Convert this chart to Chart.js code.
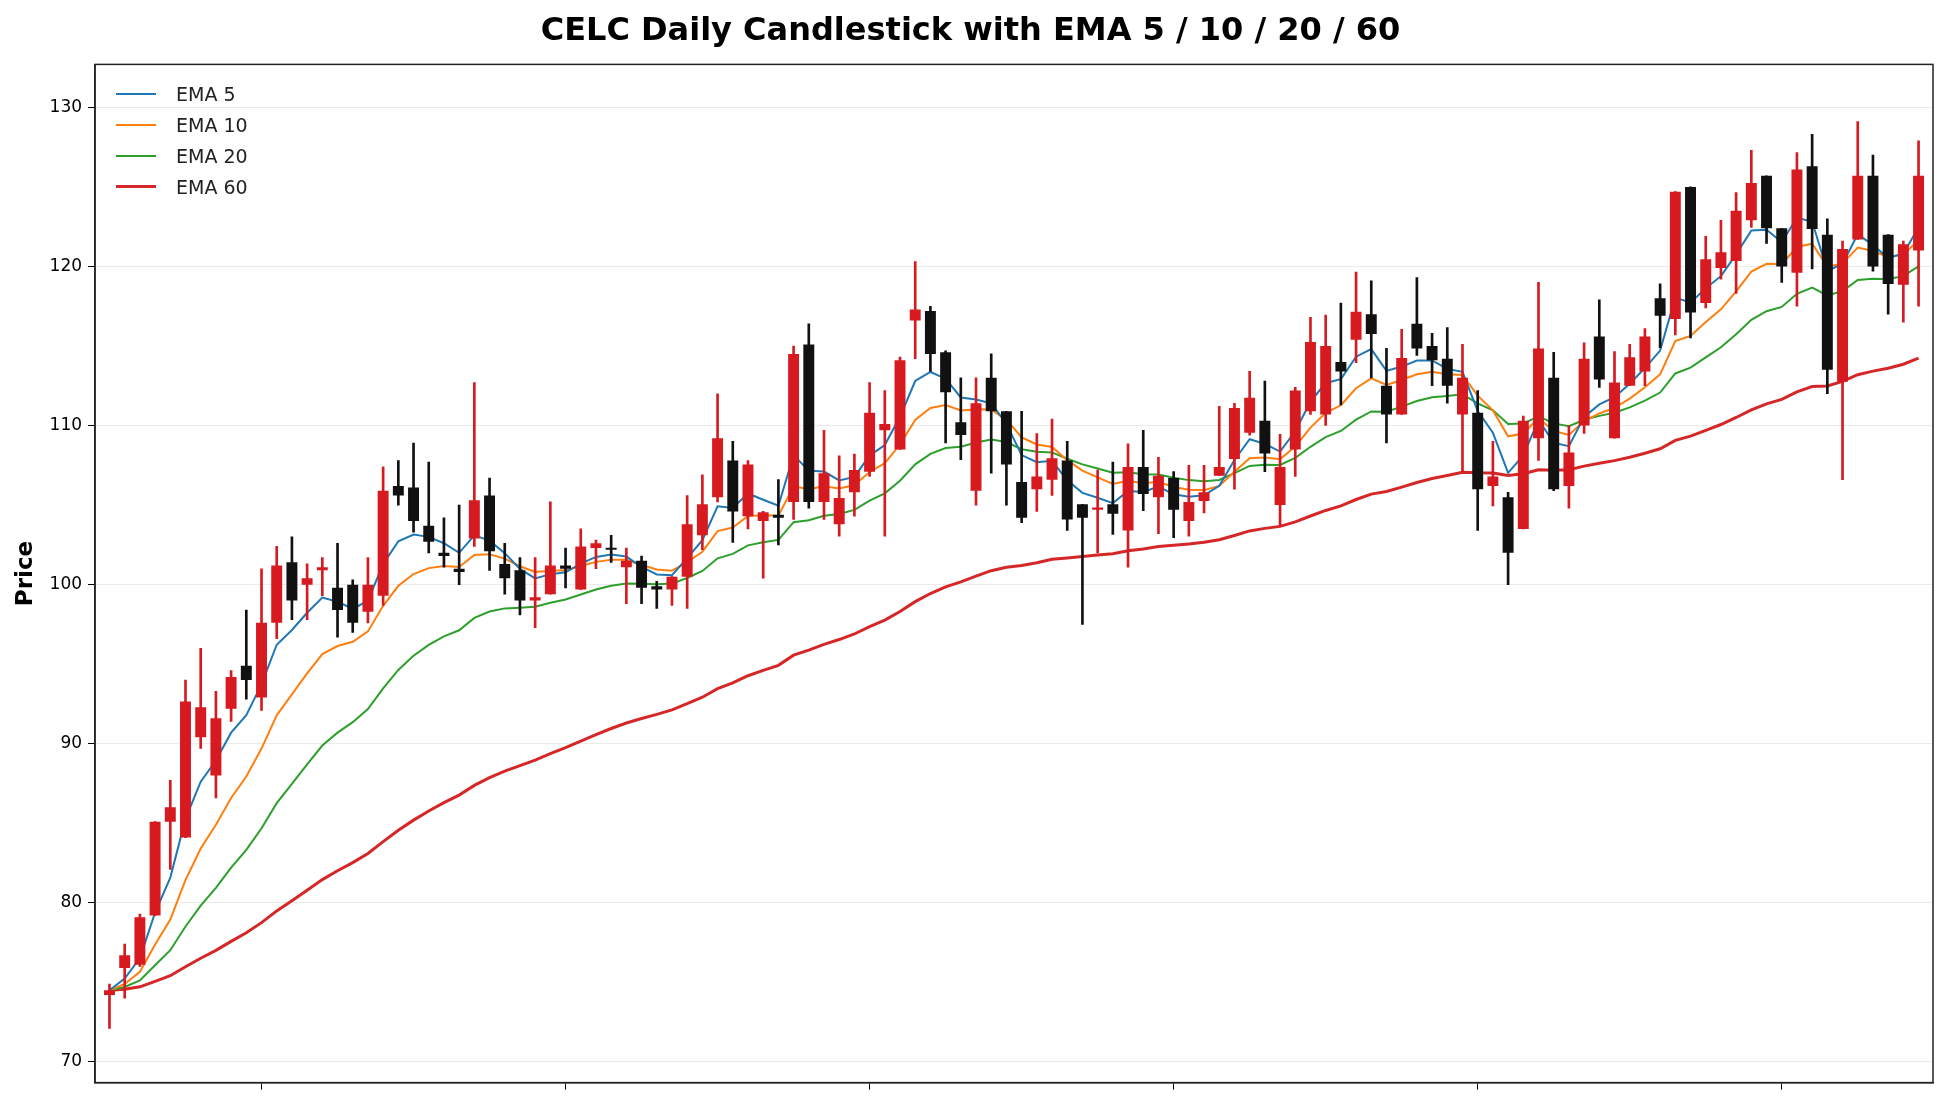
<!DOCTYPE html>
<html><head><meta charset="utf-8">
<script src="https://cdn.jsdelivr.net/npm/chart.js@4.4.0/dist/chart.umd.min.js"></script>
<style>
html,body{margin:0;padding:0;background:#fff;}
#wrap{position:relative;width:1945px;height:1106px;}
#legend{position:absolute;left:116px;top:78px;font-family:"DejaVu Sans",sans-serif;font-size:19px;color:#222;}
#legend div{display:flex;align-items:center;height:31px;}
#legend span.l{display:inline-block;width:40px;margin-right:20px;}
</style></head>
<body><div id="wrap"><canvas id="c" width="1945" height="1106"></canvas>
<div id="legend"></div></div>
<script>
const opens=[74.2,75.9,76.1,79.2,85.1,84.1,90.4,88.0,92.2,94.9,92.9,97.6,101.4,100.0,100.9,99.8,100.0,98.3,99.3,106.2,106.1,103.7,102.0,101.0,102.9,105.6,101.3,100.9,99.0,99.4,101.2,99.7,
102.3,102.3,101.1,101.5,99.9,99.7,100.5,103.1,105.5,107.8,104.3,104.0,104.4,105.2,115.1,105.2,103.8,105.8,107.1,109.7,108.5,116.6,117.2,114.6,110.2,105.9,113.0,110.9,106.45,106.0,106.6,107.8,105.05,
104.7,105.05,103.4,107.4,105.5,106.7,104.0,105.25,106.85,107.9,109.55,110.3,105.0,108.5,110.9,110.7,114.0,115.4,117.0,112.5,110.7,116.4,115.0,114.2,110.7,110.8,106.2,105.5,103.5,109.2,113.0,106.2,110.0,
115.6,109.2,112.5,113.4,118.0,116.7,125.0,117.7,119.9,120.35,122.9,125.7,122.4,119.6,126.3,122.0,112.75,121.7,125.7,122.0,118.85,121.0];
const closes=[74.5,76.7,79.1,85.1,86.0,92.65,92.3,91.6,94.2,94.0,97.6,101.2,99.0,100.4,101.1,98.4,97.6,100.0,105.9,105.6,104.0,102.7,101.8,100.8,105.3,102.1,100.4,99.0,99.2,101.2,101.0,102.4,
102.6,102.2,101.5,99.8,99.7,100.5,103.8,105.05,109.2,104.6,107.55,104.55,104.2,114.5,105.2,107.0,105.45,107.2,110.8,110.1,114.1,117.3,114.5,112.1,109.4,111.4,110.9,107.55,104.2,106.8,107.95,104.1,104.2,
104.85,104.45,107.4,105.7,106.85,104.7,105.2,105.8,107.4,111.1,111.75,108.25,107.4,112.2,115.25,115.0,113.4,117.15,115.75,110.7,114.25,114.85,114.1,112.5,113.0,106.0,106.8,102.0,110.3,114.85,106.0,108.3,114.2,
112.9,112.7,114.3,115.6,116.9,124.7,117.1,120.45,120.9,123.5,125.25,122.4,120.0,126.1,122.35,113.5,121.1,125.7,120.0,118.9,121.4,125.7];
const highs=[74.9,77.4,79.3,85.1,87.7,94.0,96.0,93.3,94.6,98.4,101.0,102.4,103.0,101.3,101.7,102.6,100.3,101.7,107.4,107.8,108.9,107.7,104.2,105.0,112.7,106.7,102.6,101.7,101.7,105.2,102.3,103.5,
102.8,103.1,102.3,101.8,100.2,100.5,105.6,106.9,112.0,109.0,107.8,104.6,106.6,115.0,116.4,109.7,108.1,108.2,112.7,112.2,114.3,120.3,117.5,114.7,113.0,113.0,114.5,110.9,110.9,109.5,110.4,109.0,105.05,
107.2,107.7,108.85,109.7,108.0,107.1,107.5,107.5,111.2,111.4,113.4,112.8,109.45,112.4,116.8,116.95,117.7,119.65,119.1,114.85,116.05,119.3,115.8,116.15,115.1,112.2,109.0,105.8,110.6,119.0,114.6,110.0,115.2,
117.9,114.65,115.1,116.1,118.9,124.7,125.0,121.9,122.9,124.65,127.3,125.7,122.4,127.15,128.3,123.0,121.6,129.1,127.0,122.0,121.6,127.9];
const lows=[72.1,74.0,76.0,79.2,82.1,84.1,89.7,86.6,91.4,92.8,92.1,96.6,97.8,97.8,99.3,96.7,97.0,97.6,98.7,105.0,103.3,102.0,101.1,100.0,102.4,100.9,99.4,98.1,97.3,99.4,99.8,99.7,
101.0,101.4,98.8,98.8,98.5,98.7,98.5,102.2,105.2,102.65,103.5,100.4,102.5,104.1,104.8,104.1,103.05,104.3,106.8,103.05,108.5,114.2,113.4,108.9,107.85,105.0,107.0,105.0,103.9,104.6,105.6,103.4,97.5,
102.0,103.15,101.1,104.65,103.2,102.95,103.05,104.5,106.85,106.0,109.4,107.1,103.7,106.8,110.7,110.0,111.3,113.95,113.0,108.9,110.7,114.4,112.5,111.4,107.1,103.4,104.95,100.0,103.5,107.8,105.9,104.8,109.5,
112.4,109.2,112.5,112.5,114.9,115.7,115.5,117.4,119.2,118.3,122.45,121.45,119.0,117.5,119.85,112.0,106.6,121.7,119.7,117.0,116.5,117.5];
const emaPeriods=[5,10,20,60];
const emaColors=['#1f77b4','#ff7f0e','#2ca02c','#d62728'];
const yTicks=[70,80,90,100,110,120,130];

function ema(src,n){const a=2/(n+1);const out=[];src.forEach((v,i)=>out.push(i===0?v:a*v+(1-a)*out[i-1]));return out;}
const RED='#d71a1f', BLK='#111111';
const idx=closes.map((_,i)=>i);
const col=idx.map(i=>closes[i]>=opens[i]?RED:BLK);
const datasets=[];
emaPeriods.forEach((p,k)=>{
  const e=ema(closes,p);
  datasets.push({type:'line',label:'EMA '+p,data:idx.map(i=>({x:i,y:e[i]})),borderColor:emaColors[k],borderWidth:p===60?3:2,pointRadius:0,tension:0,order:2});
});
datasets.push({type:'bar',label:'wick',data:idx.map(i=>({x:i,y:[lows[i],highs[i]]})),backgroundColor:col,barThickness:2,grouped:false,order:1});
datasets.push({type:'bar',label:'body',data:idx.map(i=>({x:i,y:[opens[i],closes[i]]})),backgroundColor:col,barPercentage:0.72,categoryPercentage:1,minBarLength:2,grouped:false,order:0});

const lg=document.getElementById('legend');
emaPeriods.forEach((p,k)=>{const d=document.createElement('div');d.innerHTML='<span class="l" style="border-top:'+(p===60?3:2)+'px solid '+emaColors[k]+'"></span>EMA '+p;lg.appendChild(d);});

new Chart(document.getElementById('c'),{
  type:'bar',data:{datasets},
  options:{responsive:false,animation:false,
    layout:{padding:{left:8,right:12,top:4,bottom:8}},
    plugins:{legend:{display:false},tooltip:{enabled:false},
      title:{display:true,text:'CELC Daily Candlestick with EMA 5 / 10 / 20 / 60',font:{family:'DejaVu Sans',size:32,weight:'bold'},color:'#000',padding:{top:8,bottom:14}}},
    scales:{
      x:{type:'linear',min:-0.95,max:119.95,offset:false,
        afterBuildTicks:s=>{s.ticks=[0,20,40,60,80,100].map(v=>({value:v}));},
        ticks:{callback:()=>'',font:{size:2}},
        grid:{drawOnChartArea:false,drawTicks:true,tickLength:7,color:'#000'},
        border:{color:'#222',width:1.5}},
      y:{min:68.7,max:132.7,
        afterBuildTicks:s=>{s.ticks=yTicks.map(v=>({value:v}));},
        ticks:{font:{family:'DejaVu Sans',size:17},color:'#000',padding:6},
        title:{display:true,text:'Price',font:{family:'DejaVu Sans',size:23,weight:'bold'},color:'#000'},
        grid:{color:'rgba(0,0,0,0.08)',tickLength:7,tickColor:'#000'},
        border:{color:'#222',width:1.5}}
    }
  },
  plugins:[{id:'frame',afterDraw(c){const a=c.chartArea,x=c.ctx;x.save();x.strokeStyle='#222';x.lineWidth=1.5;x.strokeRect(a.left,a.top,a.right-a.left,a.bottom-a.top);x.restore();}}]
});
</script></body></html>
